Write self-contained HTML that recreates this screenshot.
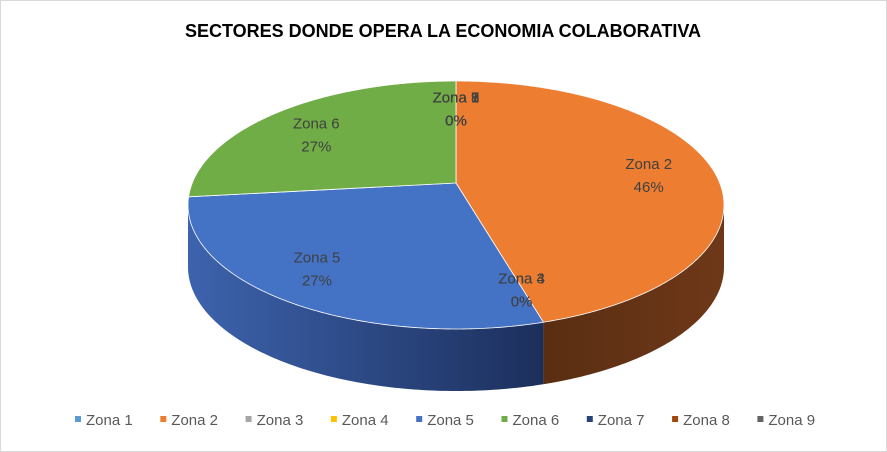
<!DOCTYPE html>
<html><head><meta charset="utf-8"><style>
body{margin:0;background:#fff}
svg{display:block}
text{font-family:"Liberation Sans",Calibri,sans-serif}
</style></head><body>
<svg id="chart" width="887" height="452" viewBox="0 0 887 452">
<defs>
<linearGradient id="gBlue" x1="0" x2="1" y1="0" y2="0"><stop offset="0" stop-color="#3d63ad"/><stop offset="1" stop-color="#1c2f5c"/></linearGradient>
<linearGradient id="gOrange" x1="0" x2="1" y1="0" y2="0"><stop offset="0" stop-color="#5a2e12"/><stop offset="1" stop-color="#6e3818"/></linearGradient>
</defs>
<rect x="0.5" y="0.5" width="886" height="451" fill="#fff" stroke="#d9d9d9"/>
<text x="443" y="37" text-anchor="middle" font-size="18" font-weight="bold" fill="#000">SECTORES DONDE OPERA LA ECONOMIA COLABORATIVA</text>
<g id="sides"></g><g id="tops"></g><g id="labels"></g><g id="legend"></g>
</svg>
<script>
const categories=["Zona 1","Zona 2","Zona 3","Zona 4","Zona 5","Zona 6","Zona 7","Zona 8","Zona 9"];
const values=[0,46,0,0,27,27,0,0,0];
const colors=["#5B9BD5","#ED7D31","#A5A5A5","#FFC000","#4472C4","#70AD47","#264478","#9E480E","#636363"];
const sideFills=["#33577a","url(#gOrange)","#5c5c5c","#8a6800","url(#gBlue)","#3e6127","#152643","#582808","#373737"];
const cx=456,cy=205,rx=268,ry=124,depth=62,apx=456,apy=183,K=0.409;
const NS="http://www.w3.org/2000/svg";
const total=values.reduce((a,b)=>a+b,0);
// intersection of ray from apex (circle angle th) with ellipse
function ray(th){
  const r=th*Math.PI/180,dx=Math.cos(r),dy=K*Math.sin(r);
  const ox=(apx-cx)/rx,oy=(apy-cy)/ry,ux=dx/rx,uy=dy/ry;
  const A=ux*ux+uy*uy,B=2*(ox*ux+oy*uy),C=ox*ox+oy*oy-1;
  const t=(-B+Math.sqrt(B*B-4*A*C))/(2*A);
  return [apx+t*dx,apy+t*dy];
}
function phi(p){let f=Math.atan2((p[1]-cy)/ry,(p[0]-cx)/rx)*180/Math.PI;return f;}
function ept(f,dy){const r=f*Math.PI/180;return [cx+rx*Math.cos(r),cy+ry*Math.sin(r)+(dy||0)];}
function mk(tag,attrs,parent){const e=document.createElementNS(NS,tag);for(const k in attrs)e.setAttribute(k,attrs[k]);parent.appendChild(e);return e;}
const sides=document.getElementById('sides'),tops=document.getElementById('tops'),labels=document.getElementById('labels'),legend=document.getElementById('legend');
let a=-90;
values.forEach((v,i)=>{
  const sweep=v/total*360,a0=a,a1=a+sweep;a=a1;
  if(sweep>0){
    let f0=phi(ray(a0)),f1=phi(ray(a1));
    if(f0<-90)f0+=360; if(f1<-90)f1+=360; if(f1<f0)f1+=360;
    const s0=Math.max(f0,0),s1=Math.min(f1,180);
    if(s1>s0){
      let d="M"+ept(s0)+" ";
      for(let t=s0;t<=s1;t+=1)d+="L"+ept(t)+" ";
      d+="L"+ept(s1)+" L"+ept(s1,depth)+" ";
      for(let t=s1;t>=s0;t-=1)d+="L"+ept(t,depth)+" ";
      d+="L"+ept(s0,depth)+"Z";
      const p=mk('path',{d:d,fill:sideFills[i]},sides);
      
      
    }
    let d="M"+apx+","+apy+" ";
    for(let t=a0;t<=a1;t+=0.5)d+="L"+ray(t)+" ";
    d+="L"+ray(a1)+"Z";
    const p=mk('path',{d:d,fill:colors[i],stroke:"#fff","stroke-width":"0.8"},tops);
    
    
  }
  const mid=(a0+a1)/2,e=ray(mid);
  const lx=apx+0.75*(e[0]-apx),ly=apy+0.75*(e[1]-apy);
  const t1=mk('text',{x:lx,y:ly-4,"text-anchor":"middle","font-size":"15",fill:"#404040"},labels);
  t1.textContent=categories[i];
  
  
  const t2=mk('text',{x:lx,y:ly+19,"text-anchor":"middle","font-size":"15",fill:"#404040"},labels);
  t2.textContent=Math.round(v/total*100)+"%";
  
  
  const lxg=75+i*85.3;
  const g=mk('g',{},legend);
  
  
  mk('rect',{x:lxg,y:416,width:6,height:6,fill:colors[i]},g);
  const lt=mk('text',{x:lxg+11,y:425,"font-size":"15",fill:"#595959"},g);
  lt.textContent=categories[i];
});
</script>
</body></html>
